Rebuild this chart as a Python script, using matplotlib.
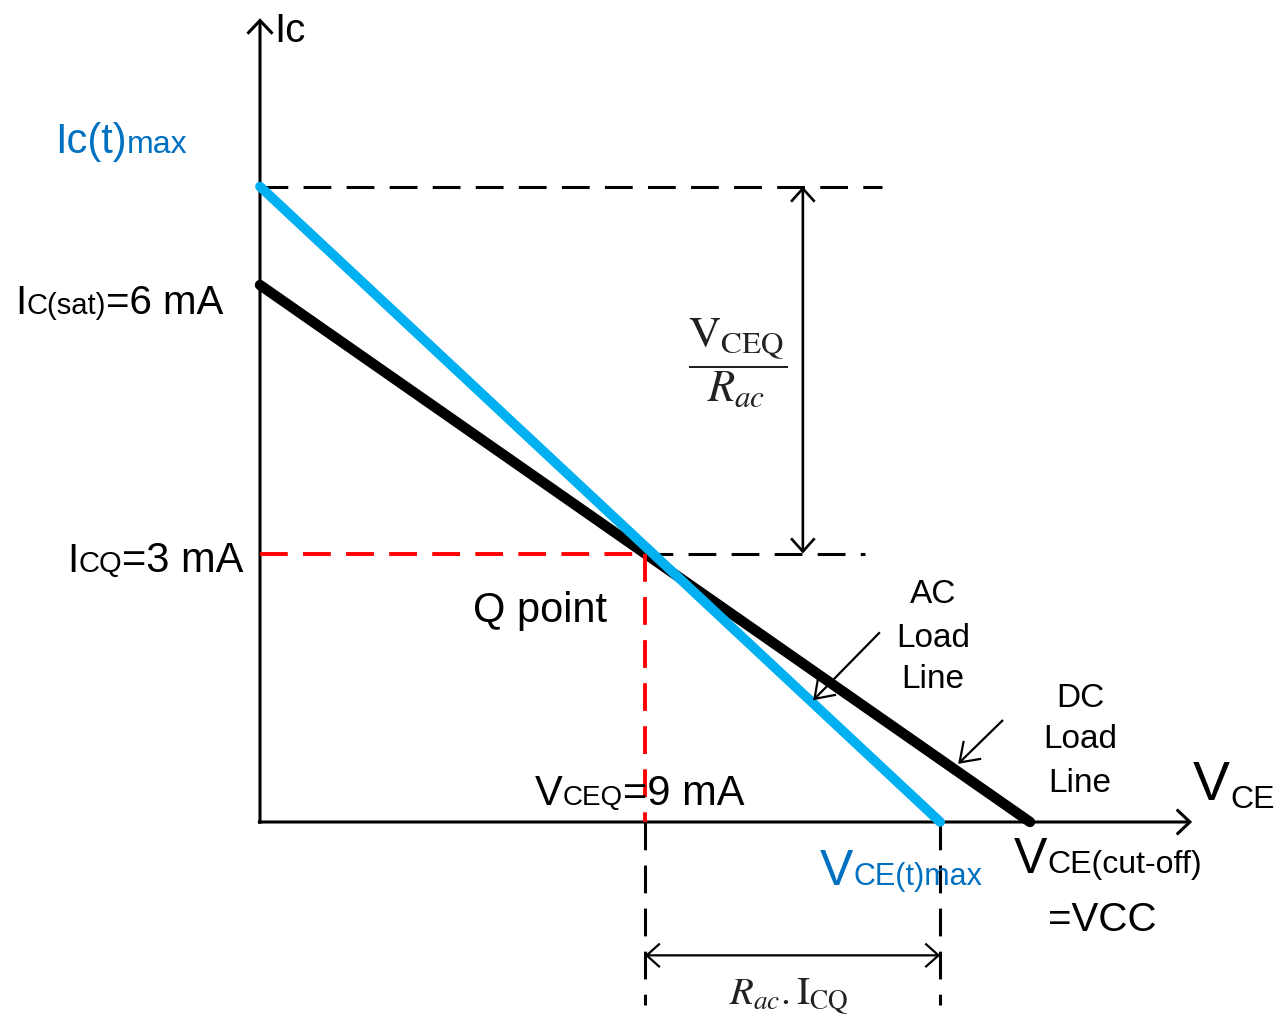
import matplotlib
matplotlib.use("Agg")
import matplotlib.pyplot as plt
from matplotlib.patches import FancyArrowPatch, ArrowStyle

plt.rcParams['font.family'] = ['Liberation Sans', 'DejaVu Sans']
plt.rcParams['mathtext.fontset'] = 'stix'
plt.rcParams['lines.scale_dashes'] = False

# Operating point and load-line end points (Ic in mA, Vce in V)
ic_sat = 6.0        # DC load line intercept on the Ic axis
vcc = 18.0          # DC load line intercept on the Vce axis (cut-off)
icq = 3.0           # quiescent collector current
vceq = 9.0          # quiescent collector-emitter voltage
ic_t_max = 7.1      # AC load line intercept on the Ic axis
vce_t_max = 15.9    # AC load line intercept on the Vce axis

dc_v = [0.0, vcc]
dc_i = [ic_sat, 0.0]
ac_v = [0.0, vce_t_max]
ac_i = [ic_t_max, 0.0]

BLACK = 'black'
LINE_BLUE = '#00B0F0'
TEXT_BLUE = '#0070C0'
RED = '#FF0000'

W, H = 1286, 1021
fig = plt.figure(figsize=(W / 100, H / 100), dpi=100)
ax = fig.add_axes([0, 0, 1, 1])
ax.axis('off')

# scale: pixels per volt / per mA, origin of the Ic-Vce plane inside the canvas
XS, YS = 385 / 9, 89.5
X0, Y0 = 260, 822
ax.set_xlim(-X0 / XS, (W - X0) / XS)
ax.set_ylim(-(H - Y0) / YS, Y0 / YS)

dash = (0, (20, 11))

# guide lines
ax.plot([0, 14.54], [ic_t_max, ic_t_max], color=BLACK, lw=2.2, linestyle=dash, zorder=2)
ax.plot([vceq, 14.14], [icq, icq], color=BLACK, lw=2.2, linestyle=dash, zorder=2)
ax.plot([vceq, vceq], [0, -2.05], color=BLACK, lw=2.2, linestyle=dash, zorder=2)
ax.plot([vce_t_max, vce_t_max], [0, -2.05], color=BLACK, lw=2.2, linestyle=dash, zorder=2)
ax.plot([0, vceq], [icq, icq], color=RED, lw=2.8, linestyle=dash, zorder=6)
ax.plot([vceq, vceq], [icq, 0], color=RED, lw=2.8, linestyle=dash, zorder=6)


def arrow(p0, p1, style, lw, hl, hw, z=5):
    a = FancyArrowPatch(p0, p1, arrowstyle=ArrowStyle(style, head_length=hl, head_width=hw),
                        mutation_scale=10, lw=lw, color=BLACK, shrinkA=0, shrinkB=0,
                        joinstyle='miter', capstyle='butt', zorder=z)
    ax.add_patch(a)


# coordinate axes
arrow((0, -0.02), (0, 8.98), '->', 2.2, 0.95, 0.9, z=3)
arrow((-0.05, 0), (21.79, 0), '->', 2.2, 0.95, 0.9, z=3)

# load lines
ax.plot(dc_v, dc_i, color=BLACK, lw=7.5, solid_capstyle='round', zorder=4)
ax.plot(ac_v, ac_i, color=LINE_BLUE, lw=7, solid_capstyle='round', zorder=5)

# dimension arrows
arrow((12.69, ic_t_max), (12.69, icq), '<->', 1.9, 0.95, 0.85)
arrow((vceq, -1.49), (vce_t_max, -1.49), '<->', 1.6, 0.95, 0.85)

# label pointers
arrow((14.49, 2.12), (12.93, 1.36), '->', 1.6, 1.3, 0.9)
arrow((17.37, 1.14), (16.32, 0.65), '->', 1.6, 1.3, 0.9)

renderer = fig.canvas.get_renderer()


def runs(x, y, parts, color=BLACK, ha='left'):
    """Write consecutive text runs of different sizes on one baseline (pixel coords)."""
    items = []
    for part in parts:
        s, size = part[0], part[1]
        dy = part[2] if len(part) > 2 else 0
        t = fig.text(0, 0, s, fontsize=size, color=color, va='baseline', ha='left')
        items.append((t, dy))
    widths = [t.get_window_extent(renderer).width for t, _ in items]
    cx = x - (sum(widths) / 2 if ha == 'center' else 0)
    for (t, dy), w in zip(items, widths):
        t.set_position((cx / W, 1 - (y + dy) / H))
        cx += w


runs(274, 42, [("Ic", 29)])
runs(55, 153, [("Ic(t)", 30), ("max", 23)], color=TEXT_BLUE)
runs(15, 314, [("I", 29), ("C(sat)", 21), ("=6 mA", 29)])
runs(67, 572, [("I", 29), ("CQ", 21), ("=3 mA", 30)])
runs(473, 622, [("Q point", 30)])
runs(535, 805, [("V", 30), ("CEQ", 20), ("=9 mA", 30)])

for s, yb in zip(["AC", "Load", "Line"], [603, 647, 688]):
    runs(933, yb, [(s, 24)], ha='center')
for s, yb in zip(["DC", "Load", "Line"], [707, 748, 792]):
    runs(1080, yb, [(s, 24)], ha='center')

runs(1193, 800, [("V", 40), ("CE", 23, 8)])
runs(820, 885, [("V", 36), ("CE(t)max", 22)], color=TEXT_BLUE)
runs(1014, 873, [("V", 36), ("CE(cut-off)", 23)])
runs(1048, 931, [("=VCC", 29)])

fig.text(738 / W, 1 - 363 / H, r'$\dfrac{\mathrm{V}_{\mathrm{CEQ}}}{R_{ac}}$',
         fontsize=32, color='#222222', ha='center', va='center')
fig.text(789 / W, 1 - 1004 / H, r'$R_{ac}.\mathrm{I}_{\mathrm{CQ}}$',
         fontsize=28, color='#222222', ha='center', va='baseline')

fig.savefig('out.png', dpi=100)
